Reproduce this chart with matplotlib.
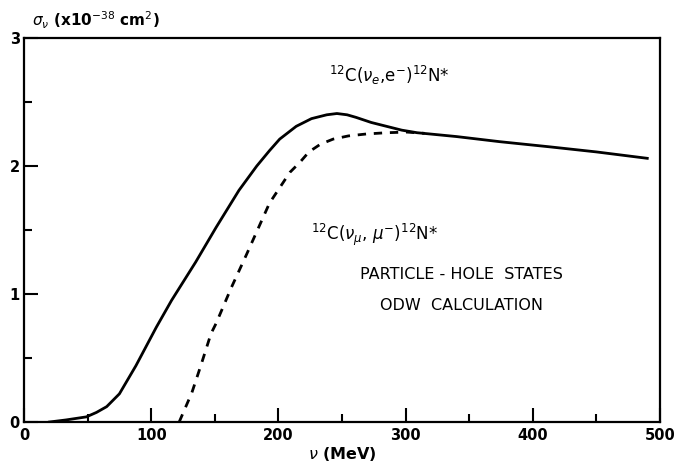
import matplotlib
matplotlib.use("Agg")
import matplotlib.pyplot as plt

# Data
solid_x = [20, 33, 49, 57, 65, 75, 88, 96, 104, 116, 135, 151, 169, 183, 193, 201, 214, 226, 238, 246, 254, 261, 273, 285, 297, 309, 340, 374, 413, 450, 490]
solid_y = [0, 0.016, 0.04, 0.075, 0.12, 0.22, 0.44, 0.59, 0.74, 0.95, 1.25, 1.52, 1.81, 2.0, 2.12, 2.21, 2.31, 2.37, 2.40, 2.41, 2.40, 2.38, 2.34, 2.31, 2.28, 2.26, 2.23, 2.19, 2.15, 2.11, 2.06]
dashed_x = [122, 132, 139, 147, 151, 163, 175, 193, 209, 217, 224, 233, 243, 255, 269, 285, 301, 315]
dashed_y = [0, 0.23, 0.44, 0.69, 0.77, 1.05, 1.31, 1.71, 1.95, 2.03, 2.11, 2.17, 2.21, 2.235, 2.25, 2.26, 2.265, 2.255]
x_ticks = [0, 100, 200, 300, 400, 500]
x_minor = [50, 150, 250, 350, 450]
y_ticks = [0, 1, 2, 3]
y_minor = [0.5, 1.5, 2.5]

plt.rcParams['font.family'] = ['DejaVu Sans']
fig = plt.figure(figsize=(6.79, 4.68), dpi=100)
ax = fig.add_axes([24/679, 1-422/468, (660-24)/679, (422-38)/468])

ax.plot(solid_x, solid_y, color='black', lw=2.0, solid_joinstyle='round')
ax.plot(dashed_x, dashed_y, color='black', lw=2.0, linestyle=(0, (3, 2.8)))

ax.set_xlim(0, 500)
ax.set_ylim(0, 3)
ax.set_xticks(x_ticks)
ax.set_xticks(x_minor, minor=True)
ax.set_yticks(y_ticks)
ax.set_yticks(y_minor, minor=True)
ax.set_xticklabels([str(v) for v in x_ticks], fontsize=10.5, fontweight='bold')
ax.set_yticklabels([str(v) for v in y_ticks], fontsize=10.5, fontweight='bold')
ax.tick_params(axis='both', which='major', direction='in', length=10, width=1.5, pad=4)
ax.tick_params(axis='both', which='minor', direction='in', length=6, width=1.5)
ax.tick_params(axis='y', pad=3)
for s in ax.spines.values():
    s.set_linewidth(1.6)

ax.set_xlabel(r'$\nu$ (MeV)', fontsize=11.5, fontweight='bold', labelpad=2)
fig.text(32/679, 1-20/468, r'$\sigma_\nu$ (x10$^{-38}$ cm$^2$)', fontsize=11, fontweight='bold',
         ha='left', va='center')

ax.text(287, 2.71, r'$^{12}$C($\nu_e$,e$^{-}$)$^{12}$N*', fontsize=12, ha='center', va='center')
ax.text(276, 1.46, r'$^{12}$C($\nu_\mu$, $\mu^{-}$)$^{12}$N*', fontsize=12, ha='center', va='center')
ax.text(344, 1.15, 'PARTICLE - HOLE  STATES', fontsize=11.5, ha='center', va='center')
ax.text(344, 0.91, 'ODW  CALCULATION', fontsize=11.5, ha='center', va='center')

fig.savefig('out.png', dpi=100)
